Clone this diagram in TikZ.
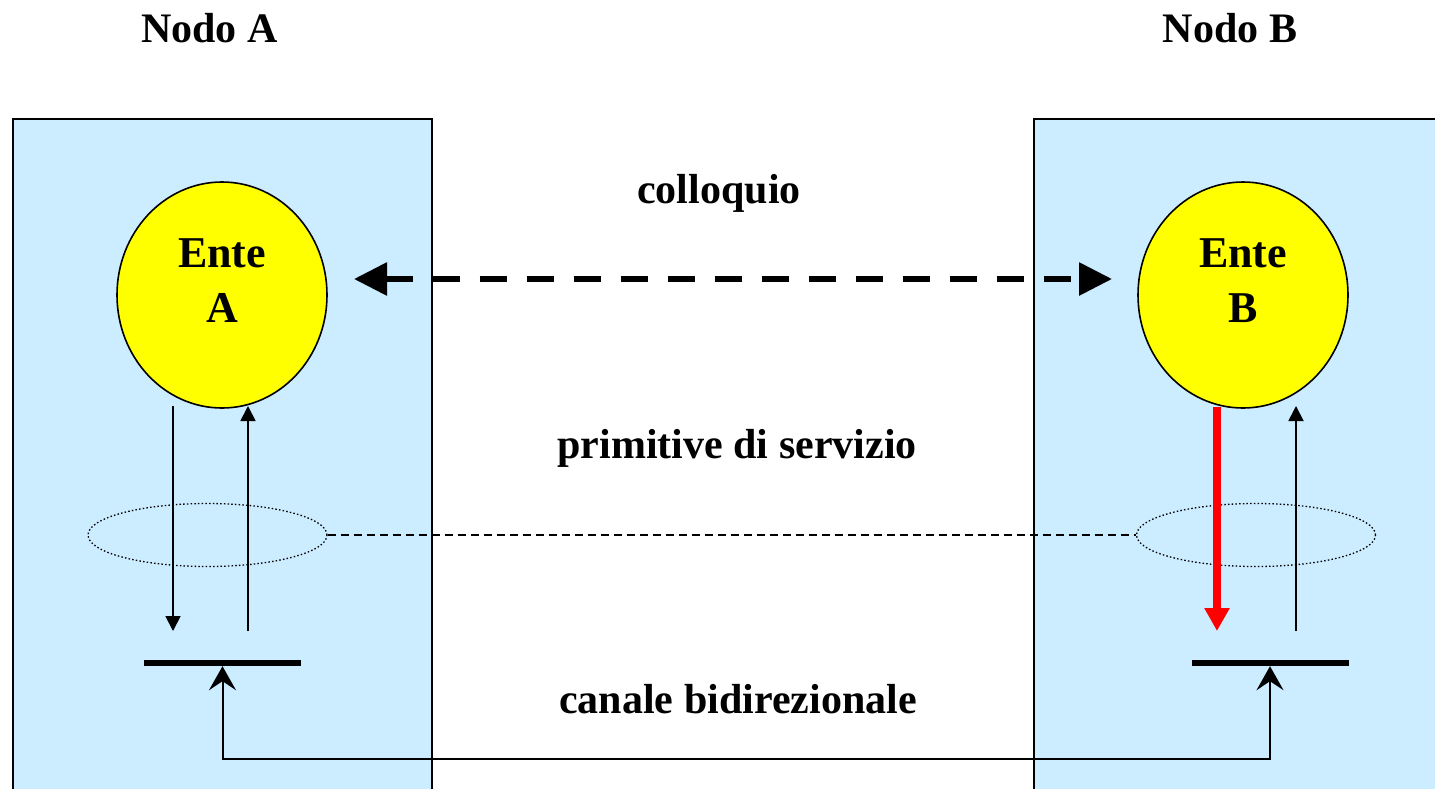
\documentclass[tikz,border=0pt]{standalone}
\usepackage{fontspec}
\setmainfont{Liberation Serif}
\usetikzlibrary{arrows.meta,shapes.geometric,calc}
\definecolor{boxblue}{HTML}{CCECFF}
\definecolor{entey}{HTML}{FFFF00}
\definecolor{redarr}{HTML}{FF0000}
\begin{document}
\begin{tikzpicture}[x=1pt,y=-1pt,
  nodebox/.style={draw=black,line width=2pt,fill=boxblue},
  ente/.style={ellipse,draw=black,line width=1.6pt,fill=entey,minimum width=210pt,minimum height=226pt,inner sep=0pt},
  lbl/.style={font=\fontsize{42}{50}\selectfont\bfseries,anchor=base,inner sep=0pt},
  entelbl/.style={font=\fontsize{44}{50}\selectfont\bfseries,anchor=base,inner sep=0pt},
  prim/.style={line width=1.8pt,-{Triangle[length=15pt,width=15pt]}},
  redprim/.style={draw=redarr,line width=8pt,-{Triangle[length=23pt,width=24pt]}},
  grp/.style={ellipse,draw=black,line width=1.3pt,dash pattern=on 1.5pt off 2.2pt,minimum width=239pt,minimum height=63pt,inner sep=0pt},
  bar/.style={rectangle,fill=black,minimum width=157pt,minimum height=6pt,inner sep=0pt},
  chan/.style={line width=2pt,{Stealth[length=24pt,width=27pt,inset=9pt]}-{Stealth[length=24pt,width=27pt,inset=9pt]}},
  talk/.style={line width=6pt,dash pattern=on 27pt off 20pt,{Triangle[length=33pt,width=32pt]}-{Triangle[length=33pt,width=32pt]}},
  link/.style={line width=1.4pt,dash pattern=on 8pt off 5pt}
]
\clip (0,0) rectangle (1435,788);
\fill[white] (0,0) rectangle (1435,788);
% node boxes
\draw[nodebox] (13,119) rectangle (432,800);
\draw[nodebox] (1034,119) rectangle (1450,800);
% titles
\node[lbl] (tA) at (209.5,42) {Nodo A};
\node[lbl] (tB) at (1230,42) {Nodo B};
\node[lbl] (tColl) at (719,203) {colloquio};
\node[lbl] (tPrim) at (737,458) {primitive di servizio};
\node[lbl] (tCan) at (738,713) {canale bidirezionale};
% entities
\node[ente] (enteA) at (222,295) {};
\node[ente] (enteB) at (1243,295) {};
\node[entelbl] (eA1) at (222,267) {Ente};
\node[entelbl] (eA2) at (222,322) {A};
\node[entelbl] (eB1) at (1243,267) {Ente};
\node[entelbl] (eB2) at (1243,322) {B};
% colloquio arrow
\coordinate (cL) at (354,279);
\coordinate (cR) at (1112,279);
\draw[talk] (cL) -- (cR);
% groups of primitives
\node[grp] (gA) at (207.5,535) {};
\node[grp] (gB) at (1256,535) {};
\draw[link] (gA.east) -- (gB.west);
% bars
\node[bar] (barA) at (222.5,663) {};
\node[bar] (barB) at (1270,663) {};
% primitives A
\coordinate (aDownS) at (173,406);
\coordinate (aDownE) at (173,631);
\coordinate (aUpS) at (248,631);
\coordinate (aUpE) at (248,406);
\draw[prim] (aDownS) -- (aDownE);
\draw[prim] (aUpS) -- (aUpE);
% primitives B
\coordinate (bDownS) at (1217,407);
\coordinate (bDownE) at (1217,631);
\coordinate (bUpS) at (1296,631);
\coordinate (bUpE) at (1296,406);
\draw[redprim] (bDownS) -- (bDownE);
\draw[prim] (bUpS) -- (bUpE);
% channel
\draw[chan] (barA.south) -- ++(0,93) -| (barB.south);
\end{tikzpicture}
\end{document}
